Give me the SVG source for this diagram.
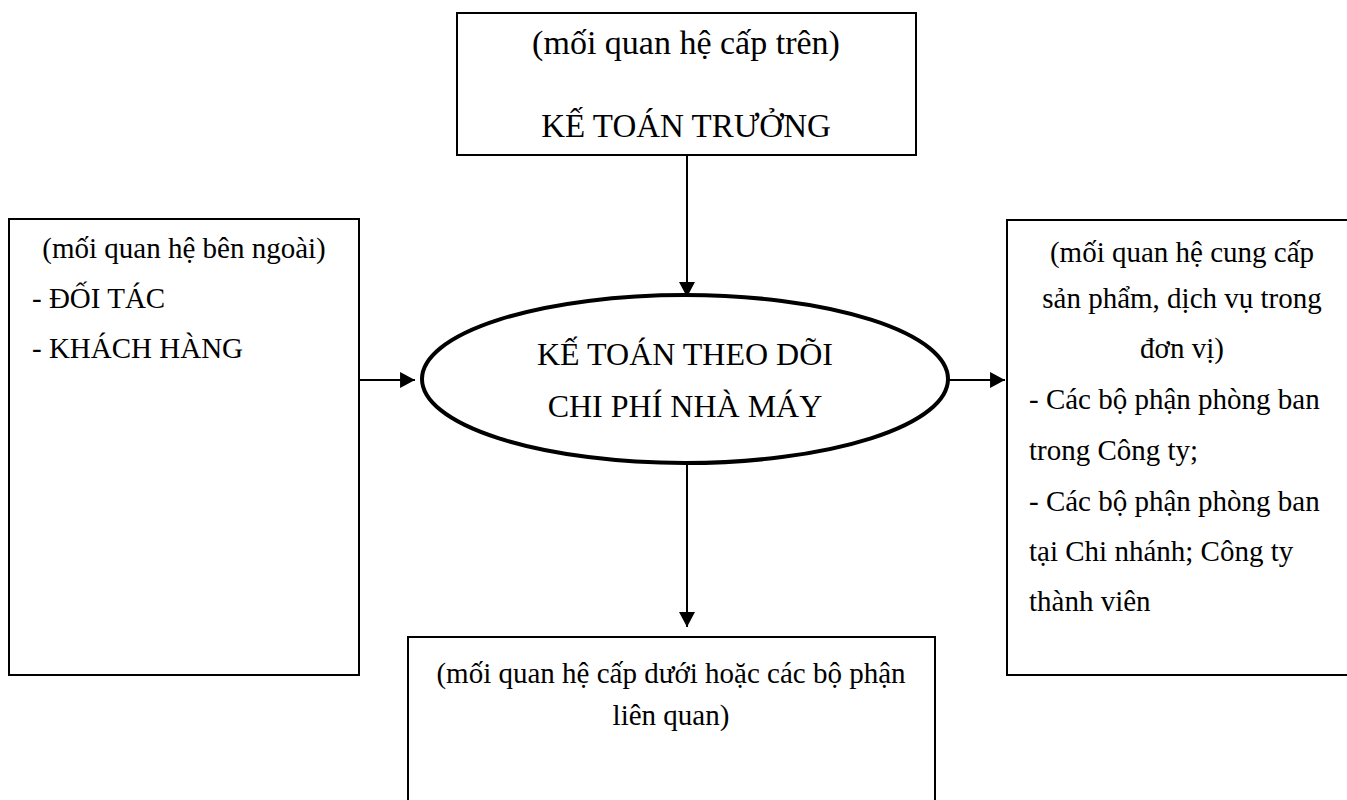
<svg xmlns="http://www.w3.org/2000/svg" width="1347" height="800" viewBox="0 0 1347 800">
<style>
.box{fill:#fff;stroke:#000;stroke-width:2}
.ell{fill:#fff;stroke:#000;stroke-width:4}
.t{font-family:"Liberation Serif","Times New Roman",serif;font-size:29px;fill:#000}
.c{text-anchor:middle}
.big{font-size:32px}
.conn{stroke:#000;stroke-width:2;fill:none}
</style>
<defs>
<marker id="ah" markerUnits="userSpaceOnUse" markerWidth="16" markerHeight="16" viewBox="0 0 14 15" refX="14" refY="7.5" orient="auto">
<path d="M0,0 L14,7.5 L0,15 Z" fill="#000"/>
</marker>
</defs>
<rect width="1347" height="800" fill="#fff"/>
<g id="top">
<rect class="box" x="457" y="13" width="459" height="142"/>
<text class="t c" x="686" y="54" style="font-size:34px">(mối quan hệ cấp trên)</text>
<text class="t c big" x="686" y="137" style="font-size:33px">KẾ TOÁN TRƯỞNG</text>
</g>
<g id="left">
<rect class="box" x="9" y="219" width="350" height="456"/>
<text class="t c" x="184" y="258">(mối quan hệ bên ngoài)</text>
<text class="t" x="32" y="308">- ĐỐI TÁC</text>
<text class="t" x="32" y="358">- KHÁCH HÀNG</text>
</g>
<g id="right">
<rect class="box" x="1007" y="220" width="360" height="455"/>
<text class="t c" x="1182" y="262">(mối quan hệ cung cấp</text>
<text class="t c" x="1182" y="308">sản phẩm, dịch vụ trong</text>
<text class="t c" x="1182" y="358">đơn vị)</text>
<text class="t" x="1029" y="409">- Các bộ phận phòng ban</text>
<text class="t" x="1029" y="460">trong Công ty;</text>
<text class="t" x="1029" y="511">- Các bộ phận phòng ban</text>
<text class="t" x="1029" y="561">tại Chi nhánh; Công ty</text>
<text class="t" x="1029" y="611">thành viên</text>
</g>
<g id="bottom">
<rect class="box" x="408" y="637" width="527" height="180"/>
<text class="t c" x="671" y="683">(mối quan hệ cấp dưới hoặc các bộ phận</text>
<text class="t c" x="671" y="725">liên quan)</text>
</g>
<g id="center">
<ellipse class="ell" cx="685" cy="379" rx="263" ry="84"/>
<text class="t c big" x="685" y="365">KẾ TOÁN THEO DÕI</text>
<text class="t c big" x="685" y="417">CHI PHÍ NHÀ MÁY</text>
</g>
<g id="connectors">
<line class="conn" x1="687" y1="155" x2="687" y2="297" marker-end="url(#ah)"/>
<line class="conn" x1="687" y1="463" x2="687" y2="627" marker-end="url(#ah)"/>
<line class="conn" x1="359" y1="380" x2="415" y2="380" marker-end="url(#ah)"/>
<line class="conn" x1="949" y1="380" x2="1005" y2="380" marker-end="url(#ah)"/>
</g>
</svg>
